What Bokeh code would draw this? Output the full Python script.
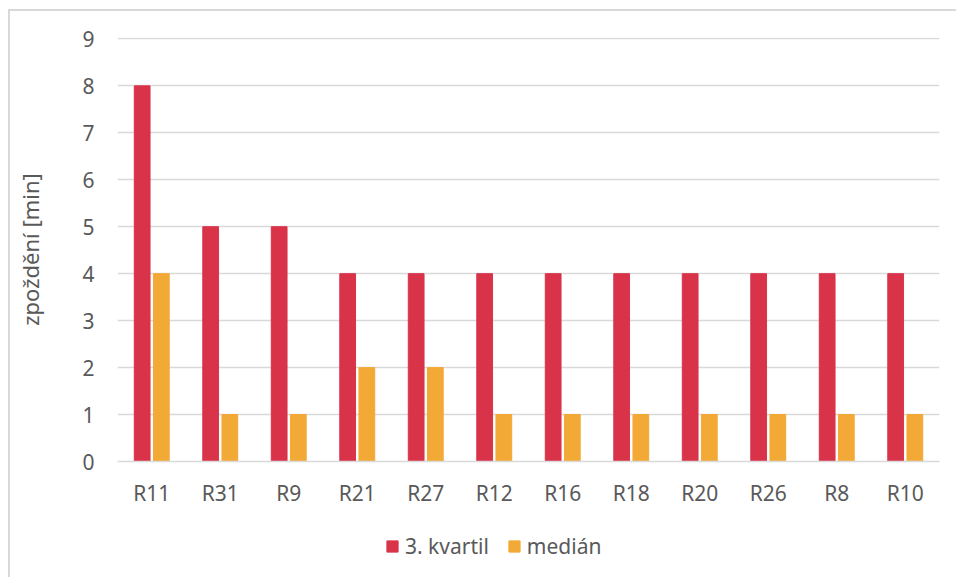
from bokeh.plotting import figure
from bokeh.layouts import column
from bokeh.models import (ColumnDataSource, FactorRange, Legend, LegendItem,
                          SingleIntervalTicker)
from bokeh.transform import dodge
from bokeh.embed import file_html
from bokeh.resources import INLINE

# Delay per route: third quartile and median, in minutes
routes = ["R11", "R31", "R9", "R21", "R27", "R12", "R16", "R18", "R20", "R26", "R8", "R10"]
q3 = [8, 5, 5, 4, 4, 4, 4, 4, 4, 4, 4, 4]
median = [4, 1, 1, 2, 2, 1, 1, 1, 1, 1, 1, 1]
series_names = ["3. kvartil", "medián"]

RED = "#D9334A"
ORANGE = "#F2A936"
TEXT = "#595959"
GRID = "#D9D9D9"
FONT = "Noto Sans"

src = ColumnDataSource(dict(route=routes, q3=q3, median=median))

# --- bar chart -------------------------------------------------------------
p = figure(x_range=FactorRange(*routes, range_padding=0), y_range=(0, 9.03),
           width=956, height=520, output_backend="svg", toolbar_location=None,
           min_border_left=117, min_border_right=17, min_border_top=37,
           min_border_bottom=59)
p.x_range.factor_padding = 0

p.vbar(x=dodge("route", -0.14, range=p.x_range), top="q3", width=0.23,
       source=src, color=RED)
p.vbar(x=dodge("route", 0.14, range=p.x_range), top="median", width=0.23,
       source=src, color=ORANGE)

p.border_fill_alpha = 0
p.outline_line_color = None
p.background_fill_color = "white"

p.xgrid.grid_line_color = None
p.ygrid.grid_line_color = GRID
p.ygrid.grid_line_width = 1.5
p.yaxis.ticker = SingleIntervalTicker(interval=1)

for ax in (p.xaxis, p.yaxis):
    ax.axis_line_color = None
    ax.major_tick_line_color = None
    ax.minor_tick_line_color = None
    ax.major_tick_out = 0
    ax.major_tick_in = 0
    ax.minor_tick_out = 0
    ax.major_label_text_color = TEXT
    ax.major_label_text_font = FONT
    ax.major_label_text_font_size = "21px"
p.xaxis.axis_line_color = GRID
p.xaxis.axis_line_width = 1.5
p.xaxis.major_label_standoff = 17
p.yaxis.major_label_standoff = 23
p.yaxis.axis_label = "zpoždění [min]"
p.yaxis.axis_label_text_font = FONT
p.yaxis.axis_label_text_font_style = "normal"
p.yaxis.axis_label_text_font_size = "22px"
p.yaxis.axis_label_text_color = TEXT
p.yaxis.axis_label_standoff = 34

# --- legend strip below the chart ------------------------------------------
# Same series on a y-range above the data, so only their legend swatches show.
leg = figure(width=956, height=57, output_backend="svg", toolbar_location=None,
             x_range=FactorRange(*routes), y_range=(100, 101),
             min_border_left=0, min_border_right=0, min_border_top=0,
             min_border_bottom=0)
leg.axis.visible = False
leg.grid.visible = False
leg.outline_line_color = None
leg.background_fill_alpha = 0
leg.border_fill_alpha = 0

sw1 = leg.vbar(x="route", top="q3", width=0.2, source=src, color=RED)
sw2 = leg.vbar(x="route", top="median", width=0.2, source=src, color=ORANGE)

legend = Legend(items=[LegendItem(label=series_names[0], renderers=[sw1]),
                       LegendItem(label=series_names[1], renderers=[sw2])],
                orientation="horizontal", location=(268, 17),
                glyph_width=14, glyph_height=14, spacing=18, padding=0,
                margin=0, label_standoff=6, border_line_color=None,
                background_fill_alpha=0,
                label_text_font=FONT, label_text_font_size="21px",
                label_text_color=TEXT)
leg.add_layout(legend, "center")

# Light frame around the chart area (left and top edges fall inside the page)
page = column(p, leg, spacing=0)
page.styles = {
    "background": ("linear-gradient(#D9D9D9, #D9D9D9) 8px 9px / 2px 100% no-repeat, "
                   "linear-gradient(#D9D9D9, #D9D9D9) 8px 9px / 100% 2px no-repeat, "
                   "white"),
}

open("out.html", "w").write(file_html(page, INLINE))
